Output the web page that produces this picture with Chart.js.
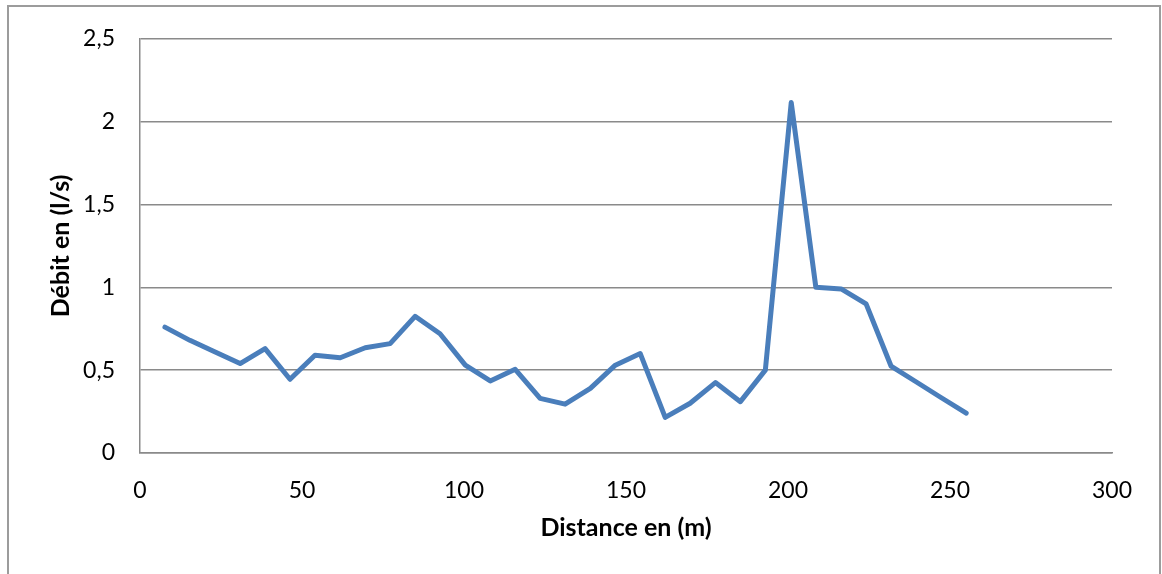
<!DOCTYPE html>
<html>
<head>
<meta charset="utf-8">
<script src="https://cdn.jsdelivr.net/npm/chart.js@4/dist/chart.umd.min.js"></script>
<style>
  html, body { margin: 0; padding: 0; background: #ffffff; }
  #wrap { position: relative; width: 1162px; height: 574px; }
  canvas { display: block; }
</style>
</head>
<body>
<div id="wrap"><canvas id="chart" width="1162" height="574"></canvas></div>
<script>
// Distance along the channel (m) and measured flow (l/s)
const distances = [7.7, 15.4, 23.2, 30.9, 38.6, 46.3, 54.0, 61.8, 69.5, 77.2, 84.9,
                   92.6, 100.4, 108.1, 115.8, 123.5, 131.2, 139.0, 146.7, 154.4, 162.1,
                   169.8, 177.6, 185.3, 193.0, 201.0, 208.6, 216.4, 224.1, 231.8, 239.5,
                   247.2, 255.0];
const debits = [0.76, 0.68, 0.61, 0.54, 0.63, 0.445, 0.59, 0.575, 0.635, 0.66, 0.825,
                0.72, 0.53, 0.435, 0.505, 0.33, 0.295, 0.39, 0.53, 0.60, 0.215,
                0.30, 0.425, 0.31, 0.50, 2.115, 1.0, 0.99, 0.90, 0.525, 0.43,
                0.335, 0.24];
const xTicks = [0, 50, 100, 150, 200, 250, 300];
const yTicks = [0, 0.5, 1, 1.5, 2, 2.5];
const xTitle = 'Distance en (m)';
const yTitle = 'Débit en (l/s)';

const points = distances.map((d, i) => ({ x: d, y: debits[i] }));
const fmt = v => String(v).replace('.', ',');

// Thin frame around the whole chart
const frame = {
  id: 'frame',
  beforeDraw(chart) {
    const ctx = chart.ctx;
    ctx.save();
    ctx.strokeStyle = '#9c9c9c';
    ctx.lineWidth = 2;
    ctx.strokeRect(8, 6, 1152, 600);
    ctx.restore();
  }
};

const gridColor = '#8a8a8a';

new Chart(document.getElementById('chart'), {
  type: 'line',
  data: {
    datasets: [{
      data: points,
      borderColor: '#4a7ebb',
      borderWidth: 5,
      pointRadius: 0,
      pointHoverRadius: 0,
      tension: 0,
      fill: false,
      borderJoinStyle: 'round',
      borderCapStyle: 'round'
    }]
  },
  options: {
    responsive: false,
    animation: false,
    events: [],
    layout: { padding: { left: 0, top: 37, right: 50, bottom: 0 } },
    plugins: { legend: { display: false }, tooltip: { enabled: false } },
    scales: {
      x: {
        type: 'linear',
        min: 0, max: 300,
        afterBuildTicks(s) { s.ticks = xTicks.map(v => ({ value: v })); },
        afterFit(s) { s.height = 121; },
        grid: { display: false, drawTicks: false },
        border: { display: true, color: gridColor, width: 1.5 },
        ticks: {
          padding: 24,
          color: '#000000',
          font: { family: 'Lato', size: 23 },
          callback: v => fmt(v),
          maxRotation: 0
        },
        title: {
          display: true,
          text: xTitle,
          color: '#000000',
          font: { family: 'Lato', size: 25, weight: 'bold', lineHeight: 1.2 },
          padding: { top: 0, bottom: 31 }
        }
      },
      y: {
        type: 'linear',
        min: 0, max: 2.5,
        afterBuildTicks(s) { s.ticks = yTicks.map(v => ({ value: v })); },
        afterFit(s) { s.width = 140; },
        grid: { color: gridColor, lineWidth: 1.5, drawTicks: false },
        border: { display: true, color: gridColor, width: 1.5 },
        ticks: {
          padding: 25,
          color: '#000000',
          font: { family: 'Lato', size: 23 },
          callback: v => fmt(v)
        },
        title: {
          display: true,
          text: yTitle,
          color: '#000000',
          font: { family: 'Lato', size: 25, weight: 'bold', lineHeight: 1.2 },
          padding: { top: 46, bottom: 0 }
        }
      }
    }
  },
  plugins: [frame]
});
</script>
</body>
</html>
